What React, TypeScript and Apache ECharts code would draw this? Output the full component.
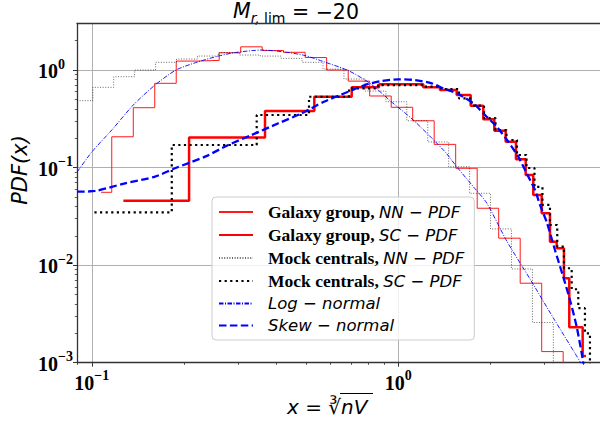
import React, { useEffect, useRef } from "react";
import * as echarts from "echarts";

// ---- axis ranges / ticks ----
const X_MIN = 0.0895;
const X_MAX = 4.55;
const Y_MIN = 0.001;
const Y_MAX = 3.0;
const xMajorTicks = [0.1, 1];
const xMinorTicks = [0.09, 0.2, 0.3, 0.4, 0.5, 0.6, 0.7, 0.8, 0.9, 2, 3, 4];
const yMajorTicks = [0.001, 0.01, 0.1, 1];
const yMinorTicks = [
  0.002, 0.003, 0.004, 0.005, 0.006, 0.007, 0.008, 0.009,
  0.02, 0.03, 0.04, 0.05, 0.06, 0.07, 0.08, 0.09,
  0.2, 0.3, 0.4, 0.5, 0.6, 0.7, 0.8, 0.9, 2,
];

// ---- series names ----
const seriesNames = [
  "Galaxy group, NN − PDF",
  "Galaxy group, SC − PDF",
  "Mock centrals, NN − PDF",
  "Mock centrals, SC − PDF",
  "Log − normal",
  "Skew − normal",
];
const legendRich = [
  "{b|Galaxy group, }{i|NN − PDF}",
  "{b|Galaxy group, }{i|SC − PDF}",
  "{b|Mock centrals, }{i|NN − PDF}",
  "{b|Mock centrals, }{i|SC − PDF}",
  "{i|Log − normal}",
  "{i|Skew − normal}",
];

// ---- step histograms: bin edges (segment starts + final end) and values ----
const galaxyNNEdges = [0.1072, 0.1162, 0.1366, 0.1605, 0.1886, 0.2216, 0.2604, 0.3061, 0.3597, 0.4227, 0.4968, 0.5838, 0.6864, 0.8065, 0.9481, 1.1142, 1.3094, 1.5388, 1.8087, 2.1257, 2.4983, 2.9362, 3.4507, 3.7398];
const galaxyNNValues = [0.0558, 0.207, 0.411, 0.731, 1.236, 1.256, 1.503, 1.73, 1.585, 1.52, 1.343, 1.0, 0.77, 0.542, 0.415, 0.302, 0.173, 0.0984, 0.0383, 0.0189, 0.00653, 0.0013, 0.0005];

const galaxySCEdges = [0.1268, 0.2077, 0.3674, 0.5321, 0.7047, 0.8651, 1.0359, 1.2063, 1.3677, 1.5505, 1.7225, 1.8936, 2.057, 2.2402, 2.4202, 2.6036, 2.7566, 2.9362, 3.1245, 3.2857, 3.4707, 3.6124, 3.7978, 3.9943, 4.0945];
const galaxySCValues = [0.0458, 0.204, 0.38, 0.533, 0.665, 0.714, 0.714, 0.665, 0.624, 0.554, 0.431, 0.313, 0.239, 0.184, 0.1216, 0.084, 0.0524, 0.034, 0.0174, 0.0149, 0.00735, 0.00231, 0.00231, 0.00117];

const mockNNEdges = [0.0861, 0.1008, 0.1179, 0.138, 0.1615, 0.189, 0.2212, 0.2588, 0.3029, 0.3544, 0.4148, 0.4855, 0.5681, 0.6648, 0.778, 0.9108, 1.066, 1.2475, 1.46, 1.7086, 1.9995, 2.34, 2.7387, 3.205, 3.4673];
const mockNNValues = [0.485, 0.665, 0.854, 1.0, 1.2, 1.297, 1.391, 1.51, 1.425, 1.39, 1.318, 1.2, 1.024, 0.809, 0.609, 0.473, 0.302, 0.183, 0.102, 0.0545, 0.0235, 0.00914, 0.00258, 0.0005];

const mockSCEdges = [0.102, 0.1824, 0.3452, 0.5113, 0.6906, 0.8587, 1.028, 1.2036, 1.3785, 1.5775, 1.7329, 1.9036, 2.0756, 2.2537, 2.4384, 2.6194, 2.7815, 2.9533, 3.1245, 3.3005, 3.4707, 3.678, 3.865, 4.0637, 4.2195, 4.3482];
const mockSCValues = [0.0348, 0.1705, 0.346, 0.5326, 0.6494, 0.702, 0.702, 0.677, 0.639, 0.513, 0.4328, 0.3222, 0.2427, 0.1918, 0.1346, 0.099, 0.0633, 0.0414, 0.0258, 0.0155, 0.00929, 0.00566, 0.00362, 0.002, 0.0005];

// ---- fitted curves ----
const logNormalX = [0.0896, 0.1, 0.1162, 0.1366, 0.1608, 0.1882, 0.2226, 0.259, 0.2934, 0.3591, 0.4269, 0.4966, 0.5691, 0.6864, 0.8088, 0.9488, 1.119, 1.42, 1.5505, 1.7568, 1.9425, 2.2576, 2.6891, 3.2033, 3.7697, 3.913, 4.0];
const logNormalY = [0.0901, 0.1445, 0.2427, 0.438, 0.702, 1.0, 1.216, 1.391, 1.511, 1.603, 1.529, 1.408, 1.222, 0.988, 0.7306, 0.4734, 0.3074, 0.1455, 0.1021, 0.0637, 0.0434, 0.0177, 0.00722, 0.00288, 0.00125, 0.00103, 0.0009];

const skewNormalX = [0.0896, 0.1025, 0.1284, 0.1608, 0.1868, 0.2342, 0.279, 0.3324, 0.4061, 0.4842, 0.5691, 0.6864, 0.7786, 0.8829, 1.0, 1.1335, 1.285, 1.4023, 1.5505, 1.7568, 1.9179, 2.0943, 2.2846, 2.4625, 2.6233, 2.7918, 2.8991, 3.0484, 3.2442, 3.4507, 3.6308, 3.8183, 3.9657, 4.035];
const skewNormalY = [0.0566, 0.0576, 0.069, 0.0807, 0.0984, 0.1294, 0.1705, 0.216, 0.2844, 0.36, 0.47, 0.599, 0.702, 0.7716, 0.803, 0.79, 0.731, 0.6494, 0.577, 0.456, 0.346, 0.2624, 0.1842, 0.1294, 0.0874, 0.0589, 0.0414, 0.0277, 0.0143, 0.00762, 0.0044, 0.00234, 0.00125, 0.0009];

function stepData(edges: number[], values: number[]) {
  const d: number[][] = values.map((v, i) => [edges[i], v]);
  d.push([edges[edges.length - 1], values[values.length - 1]]);
  return d;
}
function pairs(xs: number[], ys: number[]) {
  return xs.map((x, i) => [x, ys[i]]);
}

const SERIF = "'Liberation Serif', 'Times New Roman', serif";
const SANS = "'DejaVu Sans', sans-serif";

const powLabel = (v: number) => {
  const e = Math.round(Math.log10(v));
  return `{b|10}{s|${e < 0 ? "−" + -e : e}}`;
};
const tickRich = {
  b: { fontFamily: SERIF, fontWeight: "bold", fontSize: 20, lineHeight: 22, verticalAlign: "bottom", color: "#000" },
  s: { fontFamily: SERIF, fontWeight: "bold", fontSize: 14, lineHeight: 14, padding: [0, 0, 10, 0], verticalAlign: "bottom", color: "#000" },
};

const AXIS_COLOR = "#333";

export default function App() {
  const ref = useRef<HTMLDivElement>(null);
  useEffect(() => {
    if (!ref.current) return;
    const chart = echarts.init(ref.current, undefined, { renderer: "svg" });
    const lineSeries = (name: string, data: number[][], color: string, width: number, dash: any, step: boolean, z: number) => ({
      name,
      type: "line",
      data,
      step: step ? "end" : false,
      symbol: "none",
      showSymbol: false,
      clip: true,
      z,
      smooth: step ? false : 0.25,
      lineStyle: { color, width, type: dash, cap: "butt" },
      itemStyle: { color },
      emphasis: { disabled: true },
    });
    const option: any = {
      animation: false,
      backgroundColor: "#ffffff",
      grid: { left: 77, right: 0, top: 23.5, bottom: 62.3, containLabel: false },
      xAxis: [
        {
          type: "log", logBase: 10, min: X_MIN, max: X_MAX, position: "bottom",
          axisLine: { show: true, lineStyle: { color: AXIS_COLOR, width: 1.3 } },
          axisTick: { show: true, customValues: xMajorTicks, length: 4, lineStyle: { color: AXIS_COLOR, width: 1 } },
          axisLabel: { show: true, customValues: xMajorTicks, formatter: powLabel, rich: tickRich, margin: 8 },
          splitLine: { show: true, showMinLine: true, showMaxLine: true, lineStyle: { color: "#b0b0b0", width: 1 } },
        },
        {
          type: "log", logBase: 10, min: X_MIN, max: X_MAX, position: "bottom",
          axisLine: { show: false },
          axisTick: { show: true, customValues: xMinorTicks, length: 2.2, lineStyle: { color: AXIS_COLOR, width: 0.8 } },
          axisLabel: { show: false },
          splitLine: { show: false },
        },
        {
          type: "log", logBase: 10, min: X_MIN, max: X_MAX, position: "top",
          axisLine: { show: true, lineStyle: { color: AXIS_COLOR, width: 1.3 } },
          axisTick: { show: false }, axisLabel: { show: false }, splitLine: { show: false },
        },
      ],
      yAxis: [
        {
          type: "log", logBase: 10, min: Y_MIN, max: Y_MAX, position: "left",
          axisLine: { show: true, lineStyle: { color: AXIS_COLOR, width: 1.3 } },
          axisTick: { show: true, customValues: yMajorTicks, length: 4, lineStyle: { color: AXIS_COLOR, width: 1 } },
          axisLabel: { show: true, customValues: yMajorTicks, formatter: powLabel, rich: tickRich, margin: 39, align: "left" },
          splitLine: { show: true, showMinLine: true, showMaxLine: true, lineStyle: { color: "#b0b0b0", width: 1 } },
        },
        {
          type: "log", logBase: 10, min: Y_MIN, max: Y_MAX, position: "left",
          axisLine: { show: false },
          axisTick: { show: true, customValues: yMinorTicks, length: 2.2, lineStyle: { color: AXIS_COLOR, width: 0.8 } },
          axisLabel: { show: false },
          splitLine: { show: false },
        },
      ],
      legend: {
        show: true,
        orient: "vertical",
        left: 212,
        top: 197,
        itemWidth: 34,
        itemHeight: 14,
        itemGap: 5,
        padding: [6, 10, 6, 6],
        backgroundColor: "rgba(255,255,255,0.8)",
        borderColor: "#cccccc",
        borderWidth: 1,
        borderRadius: 4,
        selectedMode: false,
        itemStyle: { opacity: 0 },
        data: seriesNames,
        formatter: (name: string) => legendRich[seriesNames.indexOf(name)],
        textStyle: {
          padding: [0, 0, 0, 10],
          rich: {
            b: { fontFamily: SERIF, fontWeight: "bold", fontSize: 17.5, lineHeight: 20, color: "#000" },
            i: { fontFamily: SANS, fontStyle: "italic", fontSize: 16.5, lineHeight: 20, color: "#000" },
          },
        },
      },
      series: [
        lineSeries(seriesNames[0], stepData(galaxyNNEdges, galaxyNNValues), "#ff1a1a", 1, "solid", true, 2),
        lineSeries(seriesNames[1], stepData(galaxySCEdges, galaxySCValues), "#ff0000", 2.5, "solid", true, 3),
        lineSeries(seriesNames[2], stepData(mockNNEdges, mockNNValues), "rgba(0,0,0,0.6)", 1, [1, 1.6], true, 4),
        lineSeries(seriesNames[3], stepData(mockSCEdges, mockSCValues), "#000000", 2.2, [2.2, 3.4], true, 5),
        lineSeries(seriesNames[4], pairs(logNormalX, logNormalY), "#0000ff", 0.9, [4.5, 1.5, 1, 1.5], false, 6),
        lineSeries(seriesNames[5], pairs(skewNormalX, skewNormalY), "#0000ff", 2.3, [7.5, 3.4], false, 7),
      ],
      graphic: [
        {
          type: "text",
          x: 233,
          y: 1,
          style: {
            text: "{m|M}{r|r,}{l| lim}{e| = −20}",
            fill: "#000",
            rich: {
              m: { fontFamily: SANS, fontStyle: "italic", fontSize: 20.5, lineHeight: 22, verticalAlign: "top" },
              r: { fontFamily: SANS, fontStyle: "italic", fontSize: 14, lineHeight: 14, padding: [10, 0, 0, 0], verticalAlign: "top" },
              l: { fontFamily: SANS, fontSize: 14, lineHeight: 14, padding: [10, 0, 0, 0], verticalAlign: "top" },
              e: { fontFamily: SANS, fontSize: 20.5, lineHeight: 22, verticalAlign: "top" },
            },
          },
        },
        {
          type: "text",
          x: 287,
          y: 395,
          style: {
            text: "{x|x}{e| = }{r|∛}{v|nV}",
            fill: "#000",
            rich: {
              x: { fontFamily: SANS, fontStyle: "italic", fontSize: 20, lineHeight: 24 },
              e: { fontFamily: SANS, fontSize: 20, lineHeight: 24 },
              r: { fontFamily: SANS, fontSize: 20, lineHeight: 24 },
              v: { fontFamily: SANS, fontStyle: "italic", fontSize: 20, lineHeight: 24 },
            },
          },
        },
        {
          type: "line",
          shape: { x1: 340, y1: 393.5, x2: 373, y2: 393.5 },
          style: { stroke: "#000", lineWidth: 1.2 },
        },
        {
          type: "text",
          x: 20,
          y: 170,
          rotation: Math.PI / 2,
          style: {
            text: "PDF(x)",
            fontFamily: SANS,
            fontStyle: "italic",
            fontSize: 21,
            fill: "#000",
            align: "center",
            verticalAlign: "middle",
          },
        },
      ],
    };
    chart.setOption(option);
    return () => chart.dispose();
  }, []);
  return (
    <div
      ref={ref}
      style={{ position: "absolute", left: 0, top: 0, width: 600, height: 425, background: "#fff" }}
    />
  );
}
